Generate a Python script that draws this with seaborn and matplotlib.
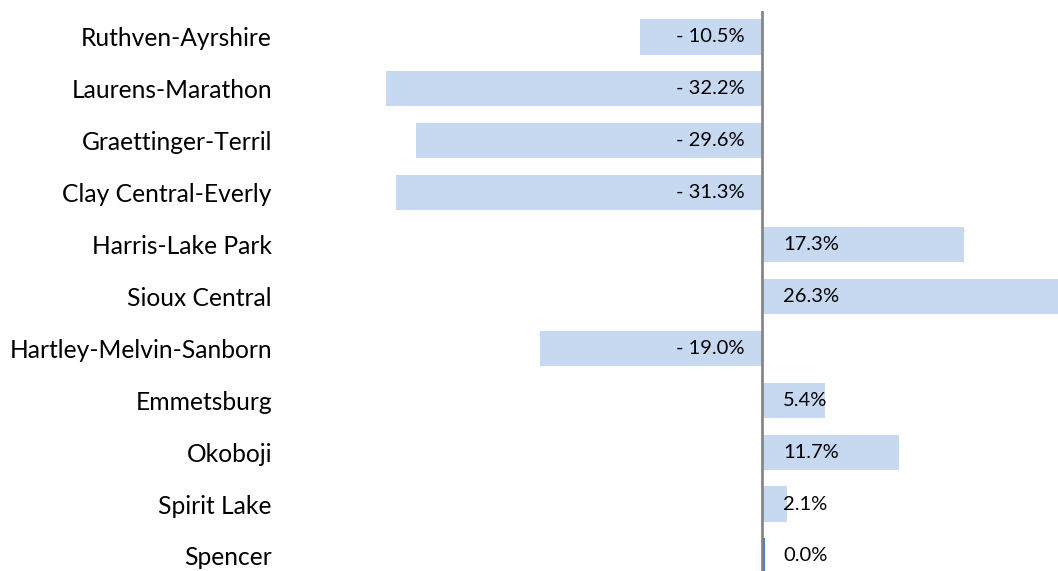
import numpy as np
import pandas as pd
import matplotlib
matplotlib.use("Agg")
import matplotlib.pyplot as plt
import seaborn as sns

districts = [
    "Ruthven-Ayrshire",
    "Laurens-Marathon",
    "Graettinger-Terril",
    "Clay Central-Everly",
    "Harris-Lake Park",
    "Sioux Central",
    "Hartley-Melvin-Sanborn",
    "Emmetsburg",
    "Okoboji",
    "Spirit Lake",
    "Spencer",
]
pct_change = [-10.5, -32.2, -29.6, -31.3, 17.3, 26.3, -19.0, 5.4, 11.7, 2.1, 0.0]

BAR = "#c6d9f1"
sns.set_theme(style="white")
plt.rcParams["font.family"] = ["Lato", "DejaVu Sans"]

df = pd.DataFrame({"district": districts, "change": pct_change})

fig = plt.figure(figsize=(10.58, 5.71), dpi=100)
# axes placed by pixel: x 290..1058, y 11..571
ax = fig.add_axes([290 / 1058, 0, 768 / 1058, 560 / 571])

sns.barplot(data=df, x="change", y="district", orient="h", color=BAR,
            width=0.68, saturation=1, linewidth=0, ax=ax)

# zero-value bar shows as a thin blue edge
for p in ax.patches:
    if abs(p.get_width()) < 1e-9:
        p.set_edgecolor("#4f81bd")
        p.set_linewidth(1.5)
        p.set_x(0.12)
        p.set_zorder(4)

ax.set_xlim(-40.4, 25.3)
ax.set_ylim(10.29, -0.5)
ax.axvline(0, color="#868686", lw=2, zorder=3)

for i, v in enumerate(pct_change):
    if v < 0:
        ax.text(-1.5, i, f"- {abs(v):.1f}%", ha="right", va="center",
                fontsize=14.5, color="black")
    else:
        ax.text(1.8, i, f"{v:.1f}%", ha="left", va="center",
                fontsize=14.5, color="black")

ax.set_xlabel("")
ax.set_ylabel("")
ax.set_xticks([])
ax.tick_params(axis="y", length=0, pad=13, labelsize=17.7, labelcolor="black")
for s in ax.spines.values():
    s.set_visible(False)

fig.savefig("out.png", dpi=100)
